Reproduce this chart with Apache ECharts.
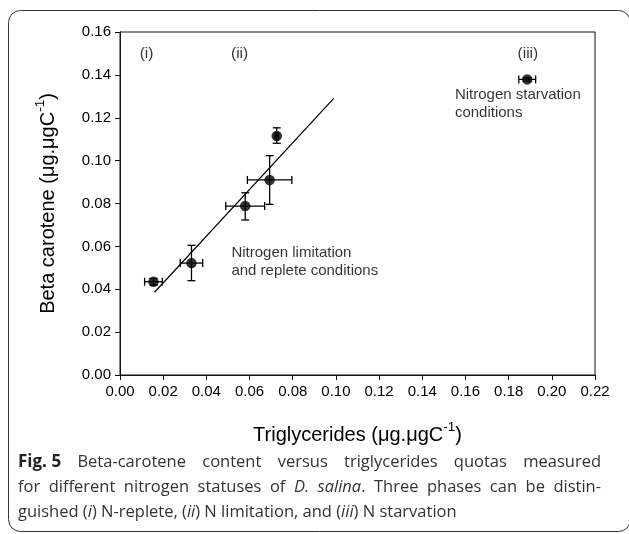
<!DOCTYPE html>
<html>
<head>
<meta charset="utf-8">
<script src="https://cdn.jsdelivr.net/npm/echarts@6/dist/echarts.min.js"></script>
<style>
html,body{margin:0;padding:0;background:#fff;}
#c{width:629px;height:534px;}
</style>
</head>
<body>
<div id="c"></div>
<script>
// ---- data ----
var triglycerides = [0.0155, 0.0331, 0.0580, 0.0693, 0.0726, 0.1886];
var betaCarotene  = [0.0435, 0.0522, 0.0788, 0.0910, 0.1115, 0.1379];
var tgErr         = [0.0041, 0.0052, 0.0090, 0.0103, 0.0008, 0.0039];
var bcErrLow      = [0.0015, 0.0082, 0.0065, 0.0114, 0.0034, 0.0008];
var bcErrHigh     = [0.0015, 0.0083, 0.0062, 0.0113, 0.0038, 0.0008];
var fitX = [0.016, 0.099];
var fitY = [0.0386, 0.129];
var xTicks = [0, 0.22, 0.02];
var yTicks = [0, 0.16, 0.02];
var phaseLabels = ['(i)', '(ii)', '(iii)'];
var phaseX = [0.0123, 0.0554, 0.1889];
var phaseY = [0.1500, 0.1500, 0.1500];
var noteTexts = ['Nitrogen limitation\nand replete conditions', 'Nitrogen starvation\nconditions'];
var noteX = [0.0516, 0.1551];
var noteY = [0.0530, 0.1266];

// caption: lines -> words -> runs [text, style]
var captionLines = [
  [[['Fig. 5','b']],[['Beta-carotene','n']],[['content','n']],[['versus','n']],[['triglycerides','n']],[['quotas','n']],[['measured','n']]],
  [[['for','n']],[['different','n']],[['nitrogen','n']],[['statuses','n']],[['of','n']],[['D.','i']],[['salina','i'],['.','n']],[['Three','n']],[['phases','n']],[['can','n']],[['be','n']],[['distin-','n']]],
  [[['guished','n']],[['(','n'],['i','i'],[')','n']],[['N-replete,','n']],[['(','n'],['ii','i'],[')','n']],[['N','n']],[['limitation,','n']],[['and','n']],[['(','n'],['iii','i'],[')','n']],[['N','n']],[['starvation','n']]]
];
var captionJustify = [true, true, false];

var chart = echarts.init(document.getElementById('c'), null, {renderer:'canvas'});
var FONT = 'Liberation Sans, Arial, sans-serif';
var CFONT = '"Open Sans"';
var CSIZE = 16.5;

var errData = triglycerides.map(function(x,i){ return [x, betaCarotene[i], tgErr[i], bcErrLow[i], bcErrHigh[i]]; });
var ptData = triglycerides.map(function(x,i){ return [x, betaCarotene[i]]; });
var fitData = fitX.map(function(x,i){ return [x, fitY[i]]; });
var phaseData = phaseLabels.map(function(t,i){ return {value:[phaseX[i], phaseY[i]], name:t}; });
var noteData = noteTexts.map(function(t,i){ return {value:[noteX[i], noteY[i]], name:t}; });

var styles = {
  n:{font:'normal normal '+CSIZE+'px '+CFONT, weight:'normal', fstyle:'normal', size:CSIZE, fill:'#333'},
  i:{font:'italic normal '+CSIZE+'px '+CFONT, weight:'normal', fstyle:'italic', size:CSIZE, fill:'#333'},
  b:{font:'normal bold 17px '+CFONT, weight:'bold', fstyle:'normal', size:17, fill:'#222'}
};
var mctx = document.createElement('canvas').getContext('2d');
function measure(t, s){ mctx.font = styles[s].font; return mctx.measureText(t).width; }

function buildCaption(){
  var els = [];
  var left = 18, right = 601, tops = [454, 479, 504];
  captionLines.forEach(function(words, li){
    var widths = words.map(function(w){ return w.reduce(function(a,r){return a+measure(r[0], r[1]);},0); });
    var total = widths.reduce(function(a,b){return a+b;},0);
    var normalSpace = measure(' ', 'n');
    var gap = captionJustify[li] ? (right - left - total)/(words.length-1) : normalSpace;
    var x = left;
    words.forEach(function(w, wi){
      w.forEach(function(r){
        var s = styles[r[1]];
        els.push({type:'text', x:x, y:tops[li], silent:true, style:{
          text:r[0], fill:s.fill, fontSize:s.size, fontFamily:'Open Sans', fontWeight:s.weight, fontStyle:s.fstyle,
          textAlign:'left', textVerticalAlign:'top'}});
        x += measure(r[0], r[1]);
      });
      x += gap;
    });
  });
  return els;
}

function titleRich(){
  return {
    a:{fontSize:20, fontFamily:FONT, color:'#000', verticalAlign:'bottom', lineHeight:25},
    s:{fontSize:13.5, fontFamily:FONT, color:'#000', verticalAlign:'top', lineHeight:25}
  };
}

var graphics = [
  {type:'rect', shape:{x:8.5, y:10.5, width:622, height:521, r:12}, style:{fill:'none', stroke:'#333', lineWidth:1}, silent:true, z:-1}
].concat(buildCaption());

var option = {
  animation:false,
  backgroundColor:'#fff',
  grid:{left:120, right:34, top:32, bottom:159, show:true, borderColor:'#111', borderWidth:1},
  xAxis:{
    type:'value', min:xTicks[0], max:xTicks[1], interval:xTicks[2],
    name:'{a|Triglycerides (μg.μgC}{s|-1}{a|)}', nameLocation:'middle', nameGap:45,
    nameTextStyle:{rich:titleRich()},
    axisLine:{lineStyle:{color:'#111', width:1}},
    axisTick:{show:true, length:5, inside:false, lineStyle:{color:'#111'}},
    splitLine:{show:false},
    axisLabel:{color:'#000', fontSize:15, fontFamily:FONT, margin:9, formatter:function(v){return v.toFixed(2);}}
  },
  yAxis:{
    type:'value', min:yTicks[0], max:yTicks[1], interval:yTicks[2],
    name:'{a|Beta carotene (μg.μgC}{s|-1}{a|)}', nameLocation:'middle', nameGap:62, nameRotate:90,
    nameTextStyle:{rich:titleRich()},
    axisLine:{lineStyle:{color:'#111', width:1}},
    axisTick:{show:true, length:5, inside:false, lineStyle:{color:'#111'}},
    splitLine:{show:false},
    axisLabel:{color:'#000', fontSize:15, fontFamily:FONT, margin:9, formatter:function(v){return v.toFixed(2);}}
  },
  series:[
    {
      type:'line', data:fitData, showSymbol:false, symbol:'none',
      lineStyle:{color:'#000', width:1.2}, z:2
    },
    {
      type:'custom', data:errData, z:3,
      renderItem:function(params, api){
        var x=api.value(0), y=api.value(1), ex=api.value(2), el=api.value(3), eh=api.value(4);
        var c=api.coord([x,y]);
        var l=api.coord([x-ex,y]), r=api.coord([x+ex,y]);
        var t=api.coord([x,y+eh]), b=api.coord([x,y-el]);
        var cap=4;
        var st={stroke:'#000', lineWidth:1.3};
        return {type:'group', children:[
          {type:'line', shape:{x1:l[0],y1:c[1],x2:r[0],y2:c[1]}, style:st},
          {type:'line', shape:{x1:l[0],y1:c[1]-cap,x2:l[0],y2:c[1]+cap}, style:st},
          {type:'line', shape:{x1:r[0],y1:c[1]-cap,x2:r[0],y2:c[1]+cap}, style:st},
          {type:'line', shape:{x1:c[0],y1:t[1],x2:c[0],y2:b[1]}, style:st},
          {type:'line', shape:{x1:c[0]-cap,y1:t[1],x2:c[0]+cap,y2:t[1]}, style:st},
          {type:'line', shape:{x1:c[0]-cap,y1:b[1],x2:c[0]+cap,y2:b[1]}, style:st}
        ]};
      }
    },
    {
      type:'scatter', data:ptData, symbol:'circle', symbolSize:10.5,
      itemStyle:{color:'#000'}, z:4
    },
    {
      type:'scatter', data:phaseData, symbolSize:0, silent:true, z:5,
      label:{show:true, position:'inside', align:'center', verticalAlign:'middle',
        formatter:function(p){return p.name;}, color:'#000', fontSize:15.5, fontFamily:FONT}
    },
    {
      type:'scatter', data:noteData, symbolSize:0, silent:true, z:5,
      label:{show:true, position:'inside', align:'left', verticalAlign:'middle', lineHeight:18,
        formatter:function(p){return p.name;}, color:'#000', fontSize:15, fontFamily:FONT}
    }
  ],
  graphic:graphics
};
chart.setOption(option);
</script>
</body>
</html>
